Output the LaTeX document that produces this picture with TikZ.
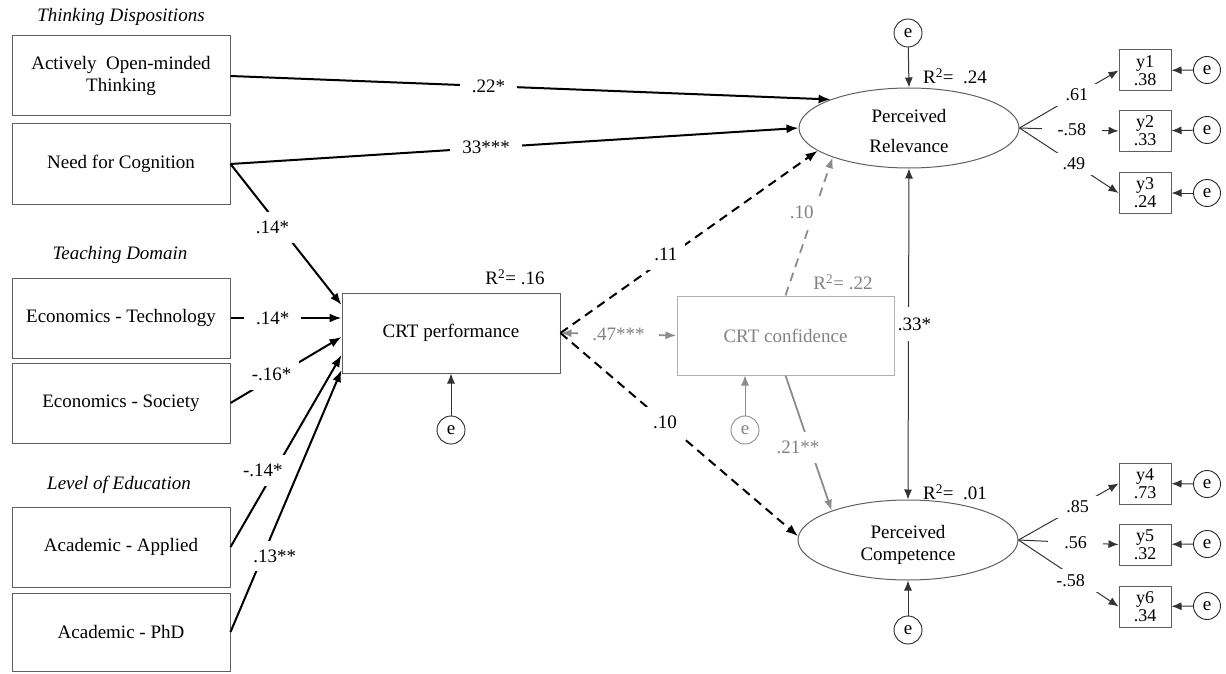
\documentclass[tikz,border=0pt]{standalone}
\usepackage{fontspec}
\setmainfont{Liberation Serif}
\usetikzlibrary{arrows.meta,shapes.geometric,calc}
\newcommand\myfs{\fontsize{19}{22}\selectfont}
\newcommand\mysm{\fontsize{18}{18}\selectfont}
\newcommand\lattext[2][0pt]{\raisebox{-9pt}[0pt][0pt]{\begin{tabular}{@{}c@{}}#2\end{tabular}}}
\definecolor{gtxt}{RGB}{130,130,130}
\definecolor{gln}{RGB}{140,140,140}
\definecolor{gbox}{RGB}{175,175,175}
\definecolor{bord}{RGB}{95,95,95}
\begin{document}
\begin{tikzpicture}[x=1pt,y=1pt,
  box/.style={draw=bord, line width=1pt, minimum width=218pt, minimum height=80pt, inner sep=0pt, align=center, font=\myfs},
  head/.style={font=\myfs\itshape, inner sep=0pt},
  lat/.style={ellipse, draw=bord, line width=1pt, minimum width=220pt, minimum height=80pt, inner sep=0pt, font=\myfs},
  ec/.style={circle, draw=black!85, line width=0.9pt, minimum size=28pt, inner sep=0pt, font=\myfs},
  ind/.style={draw=bord, line width=1pt, minimum width=52pt, minimum height=41pt, inner sep=0pt, align=center, font=\mysm},
  rsq/.style={font=\myfs, inner sep=0pt},
  lab/.style={fill=white, font=\myfs, inner xsep=12pt, inner ysep=3pt},
  labd/.style={fill=white, font=\myfs, inner xsep=8pt, inner ysep=9pt},
  labv/.style={fill=white, font=\myfs, inner xsep=2pt, inner ysep=11pt},
  labi/.style={fill=white, font=\mysm, inner xsep=16pt, inner ysep=5pt},
  thk/.style={line width=2pt, -{Latex[length=12pt,width=9pt]}},
  dsh/.style={thk, dash pattern=on 9pt off 6pt},
  thn/.style={line width=1pt, draw=black!80, -{Latex[length=10pt,width=8pt]}},
  gry/.style={line width=1.8pt, draw=gln, -{Latex[length=11pt,width=8pt]}}
]
\useasboundingbox (0,0) rectangle (1226,-674);

% headings and left boxes
\node[head] (h1) at (121,-17) {Thinking Dispositions};
\node[box] (aot) at (121,-76) {Actively\ \ Open-minded\\Thinking};
\node[box] (nfc) at (121,-164) {Need for Cognition};
\node[head] (h2) at (120,-255) {Teaching Domain};
\node[box] (ect) at (121,-318) {Economics - Technology};
\node[box] (ecs) at (121,-403) {Economics - Society};
\node[head] (h3) at (119,-485) {Level of Education};
\node[box] (aca) at (121,-547) {Academic - Applied};
\node[box, minimum height=78pt] (acp) at (121,-632) {Academic - PhD};

% central boxes
\node[box] (crt) at (451,-333) {CRT performance};
\node[box, draw=gbox, text=gtxt, minimum width=217pt, minimum height=79pt] (conf) at (785.5,-335.5) {CRT confidence};
\node[rsq] (r1) at (515,-277) {R\textsuperscript{2}= .16};
\node[rsq, text=gtxt] (r2) at (843,-282) {R\textsuperscript{2}= .22};

% latent variables
\node[lat] (pr) at (909,-128) {\lattext{Perceived\\[8pt]Relevance}};
\node[lat] (pc) at (908,-540) {\lattext{Perceived\\Competence}};
\node[rsq] (r3) at (955,-76) {R\textsuperscript{2}=\ \ .24};
\node[rsq] (r4) at (955,-492) {R\textsuperscript{2}=\ \ .01};

% error terms
\node[ec] (e1) at (908,-33) {e};
\node[ec] (e2) at (908,-630) {e};
\node[ec] (e3) at (451,-430) {e};
\node[ec, draw=gln, text=gtxt] (e4) at (745,-430) {e};

% indicators
\node[ind] (y1) at (1145,-70.5) {y1\\.38};
\node[ind] (y2) at (1145,-131) {y2\\.33};
\node[ind] (y3) at (1145,-193) {y3\\.24};
\node[ind] (y4) at (1145,-483.5) {y4\\.73};
\node[ind] (y5) at (1145,-544.5) {y5\\.32};
\node[ind] (y6) at (1145,-606.5) {y6\\.34};
\node[ec, minimum size=27pt] (ey1) at (1207,-70) {e};
\node[ec, minimum size=27pt] (ey2) at (1207,-130) {e};
\node[ec, minimum size=27pt] (ey3) at (1207,-193) {e};
\node[ec, minimum size=27pt] (ey4) at (1207,-484) {e};
\node[ec, minimum size=27pt] (ey5) at (1207,-544) {e};
\node[ec, minimum size=27pt] (ey6) at (1207,-606) {e};

% paths to Perceived Relevance
\draw[thk] (aot.east) -- node[lab, pos=0.43]{.22*} (pr.160);
\draw[thk] (nfc.east) -- node[lab, pos=0.45]{33***} (pr.west);

% paths to CRT performance
\draw[thk] (nfc.east) -- node[labd, pos=0.45, xshift=-8pt]{.14*} ([yshift=28pt]crt.west);
\draw[thk] (ect.east) -- node[lab, pos=0.38]{.14*} ([yshift=15pt]crt.west);
\draw[thk] (ecs.east) -- node[labd, pos=0.37, yshift=4pt]{-.16*} ([yshift=-4pt]crt.west);
\draw[thk] (aca.east) -- node[labd, pos=0.4, xshift=-12pt]{-.14*} ([yshift=-22pt]crt.west);
\draw[thk] (acp.east) -- node[labd, pos=0.29, xshift=12pt]{.13**} ([yshift=-37pt]crt.west);

% CRT performance to outcomes
\draw[dsh] (crt.east) -- node[labd, pos=0.41, yshift=4pt]{.11} (pr.194);
\draw[dsh] (crt.east) -- node[labd, pos=0.44]{.10} (pc.178);
\draw[gry, {Latex[length=11pt,width=8pt]}-{Latex[length=11pt,width=8pt]}] (crt.east) -- node[lab, text=gtxt, inner xsep=14pt]{.47***} (conf.west);

% CRT confidence to outcomes
\draw[gry, dash pattern=on 9pt off 6pt] (conf.north) -- node[labd, text=gtxt, pos=0.6, xshift=-12pt]{.10} (pr.201);
\draw[gry] (conf.south) -- node[labd, text=gtxt, pos=0.53, xshift=-12pt]{.21**} (pc.159);

% covariance between outcomes
\draw[thn, {Latex[length=10pt,width=8pt]}-{Latex[length=10pt,width=8pt]}] (pr.south) -- node[labv, pos=0.47, xshift=6pt]{.33*} (pc.north);

% error arrows
\draw[thn] (e1) -- (pr.north);
\draw[thn] (e2) -- (pc.south);
\draw[thn] (e3) -- (crt.south);
\draw[thn, draw=gln] (e4) -- (conf.south -| e4);

% loadings
\draw[thn] (pr.east) -- node[labi, pos=0.58]{.61} (y1.west);
\draw[thn] (pr.east) -- node[labi, pos=0.53]{-.58} (y2.west);
\draw[thn] (pr.east) -- node[labi, pos=0.55]{.49} (y3.west);
\draw[thn] (pc.east) -- node[labi, pos=0.59]{.85} (y4.west);
\draw[thn] (pc.east) -- node[labi, pos=0.57]{.56} (y5.west);
\draw[thn] (pc.east) -- node[labi, pos=0.52, yshift=-6pt]{-.58} (y6.west);

\draw[thn] (ey1) -- (y1);
\draw[thn] (ey2) -- (y2);
\draw[thn] (ey3) -- (y3);
\draw[thn] (ey4) -- (y4);
\draw[thn] (ey5) -- (y5);
\draw[thn] (ey6) -- (y6);
\end{tikzpicture}
\end{document}
